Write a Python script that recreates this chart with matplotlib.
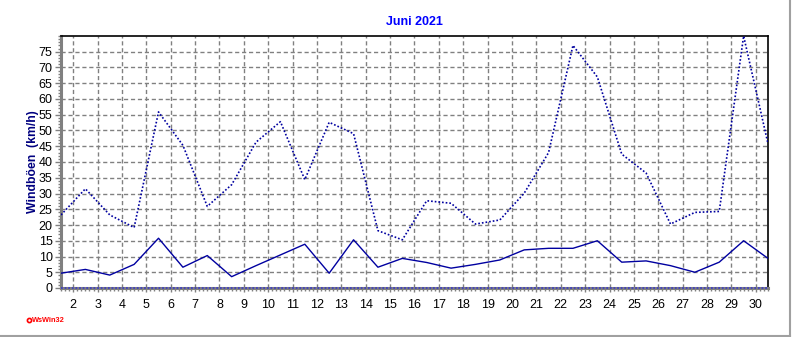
import matplotlib
matplotlib.use("Agg")
import matplotlib.pyplot as plt
from matplotlib.ticker import MultipleLocator
from matplotlib.lines import Line2D

# Daily gust values for June 2021, plotted at the middle of each day
days = [d + 0.5 for d in range(1, 31)]
max_gust = [23.2, 31.5, 23.2, 19.2, 55.9, 45.3, 25.9, 32.8, 46.3, 52.8,
            34.4, 52.6, 49.0, 18.2, 15.3, 27.7, 26.9, 20.3, 21.6, 30.1,
            43.0, 77.0, 67.0, 42.5, 36.5, 20.3, 24.0, 24.3, 80.0, 45.8]
mean_gust = [4.7, 5.9, 4.1, 7.5, 15.8, 6.6, 10.3, 3.6, 7.1, 10.5,
             13.9, 4.7, 15.3, 6.6, 9.4, 8.1, 6.3, 7.5, 8.9, 12.1,
             12.6, 12.6, 15.0, 8.2, 8.6, 7.1, 5.0, 8.2, 15.0, 9.4]
x_ticks = list(range(2, 31))
y_ticks = list(range(0, 80, 5))

plt.rcParams['font.family'] = ['Liberation Sans', 'DejaVu Sans']

fig = plt.figure(figsize=(7.92, 3.37), dpi=100)
ax = fig.add_axes([61 / 792, 49 / 337, 707 / 792, 252 / 337])

line_col = '#0000A0'
ax.plot(days, max_gust, color=line_col, lw=1.2, ls=(0, (1, 1.2)), zorder=3)
ax.plot(days, mean_gust, color=line_col, lw=1.0, zorder=3)
ax.axhline(0, color='#4040C0', lw=1.3, ls=(0, (1, 1)), zorder=5, clip_on=False)

ax.set_xlim(1.5, 30.5)
ax.set_ylim(0, 80)
ax.set_xticks(x_ticks)
ax.set_xticklabels([str(t) for t in x_ticks])
ax.set_yticks(y_ticks)
ax.set_yticklabels([str(t) for t in y_ticks])
ax.xaxis.set_minor_locator(MultipleLocator(1 / 6))
ax.yaxis.set_minor_locator(MultipleLocator(1))

ax.grid(True, which='major', color='#808080', lw=1.0, ls=(0, (3, 2)))
ax.tick_params(axis='both', which='major', labelsize=9, colors='black')
ax.tick_params(axis='x', which='major', length=3, width=1, color='#808080', pad=5)
ax.tick_params(axis='x', which='minor', length=2.5, width=1, color='#808080')
ax.tick_params(axis='y', which='major', length=4, width=1, color='#808080', pad=2)
ax.tick_params(axis='y', which='minor', length=2, width=1, color='#808080')

for side in ('top', 'right'):
    ax.spines[side].set_color('black')
    ax.spines[side].set_linewidth(1.2)
for side in ('left', 'bottom'):
    ax.spines[side].set_color('#808080')
    ax.spines[side].set_linewidth(2.2)

ax.set_title('Juni 2021', color='#0000FF', fontsize=9, fontweight='bold', pad=8)
ax.set_ylabel('Windböen  (km/h)', color='#000080', fontsize=8.8, fontweight='bold')
ax.yaxis.set_label_coords(-22 / 707, 0.5)

# Program tag and window frame
fig.text(32 / 792, 1 - 320 / 337, 'WsWin32', color='red', fontsize=5.3, fontweight='bold',
         va='center', ha='left')
fig.add_artist(Line2D([28.5 / 792], [1 - 319.5 / 337], marker='o', ms=3, mfc='white', mec='red', mew=1.2,
                      transform=fig.transFigure))
fig.add_artist(Line2D([789.5 / 792, 789.5 / 792], [0.5 / 337, 1], color='#A0A0A0', lw=1.5,
                      transform=fig.transFigure))
fig.add_artist(Line2D([0, 790 / 792], [1 / 337, 1 / 337], color='#A0A0A0', lw=1.5,
                      transform=fig.transFigure))

fig.savefig('out.png', dpi=100)
